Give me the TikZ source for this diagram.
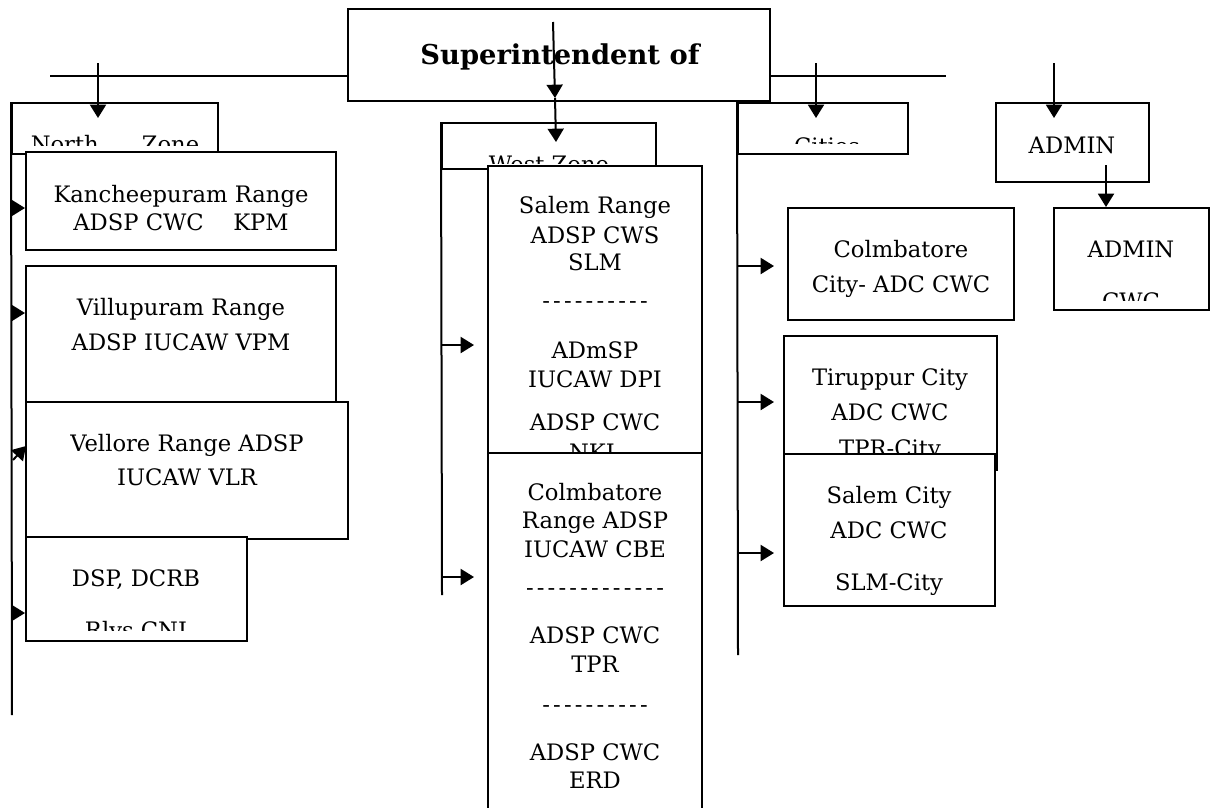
\documentclass[tikz,border=0pt]{standalone}
\usepackage{fontspec}
\setmainfont{DejaVu Serif}
\usetikzlibrary{arrows.meta,fit}
\newcommand\dk{-\kern2.4pt}
\begin{document}
\begin{tikzpicture}[x=0.75pt,y=-0.75pt,
  box/.style={draw,fill=white,line width=1.5pt,inner sep=0pt},
  txt/.style={anchor=base,inner sep=0pt,font=\fontsize{17}{20}\selectfont},
  ln/.style={line width=1.5pt},
  arr/.style={line width=1.5pt,-{Triangle[length=10pt,width=12pt]}}]
\useasboundingbox (0,0) rectangle (1216,807);
\clip (0,0) rectangle (1216,807);

% top line and top box
\coordinate (hl) at (50,76); \coordinate (hr) at (946,76);
\draw[ln] (hl) -- (hr);
\node[box, fit={(348,9) (770,101)}] (sup) {};
\node[txt, font=\bfseries\fontsize{20.5}{24}\selectfont] (suptxt) at (560,64) {Superintendent of};

% ---------- North zone ----------
\node[box, fit={(12,103) (218,154)}] (nz) {};
\begin{scope}
  \clip (12,103) rectangle (218,145);
  \node[txt] (nztxt) at (115,152) {North\hspace{1.9em}Zone};
\end{scope}
\coordinate (nzb) at (12,715);
\draw[ln] (nz.north west) -- (nzb);

\node[box, fit={(26,152) (336,250)}] (kpm) {};
\node[txt] (kpm1) at (181,202) {Kancheepuram Range};
\node[txt] (kpm2) at (181,230) {ADSP CWC\hspace{1.3em}KPM};

\node[box, fit={(26,266) (336,410)}] (vpm) {};
\node[txt] (vpm1) at (181,315) {Villupuram Range};
\node[txt] (vpm2) at (181,350) {ADSP IUCAW VPM};

\node[box, fit={(26,402) (348,539)}] (vlr) {};
\node[txt] (vlr1) at (187,451) {Vellore Range ADSP};
\node[txt] (vlr2) at (187,485) {IUCAW VLR};

\node[box, fit={(26,537) (247,641)}] (dsp) {};
\node[txt] (dsp1) at (136,586) {DSP, DCRB};
\begin{scope}
  \clip (26,537) rectangle (247,630);
  \node[txt] (dsp2) at (136,638) {Rlys CNI};
\end{scope}

\coordinate (na1) at (12,208);
\coordinate (na2) at (12,313);
\coordinate (na3) at (13,460);
\coordinate (na3e) at (26,446);
\coordinate (na4) at (12,613);
\draw[arr] (na1) -- (na1 -| kpm.west);
\draw[arr] (na2) -- (na2 -| vpm.west);
\draw[arr] (na3) -- (na3e);
\draw[arr] (na4) -- (na4 -| dsp.west);

% ---------- West zone ----------
\node[box, fit={(442,123) (656,169)}] (wz) {};
\begin{scope}
  \clip (442,123) rectangle (656,163);
  \node[txt] (wztxt) at (549,172) {West Zone};
\end{scope}
\coordinate (wzb) at (442,595);
\draw[ln] (wz.north west) -- (wzb);

\node[box, fit={(488,166) (702,460)}] (slm) {};
\node[txt] (slm1) at (595,213) {Salem Range};
\node[txt] (slm2) at (595,243) {ADSP CWS};
\node[txt] (slm3) at (595,270) {SLM};
\node[txt] (slm4) at (595,308) {\dk\dk\dk\dk\dk\dk\dk\dk\dk-};
\node[txt] (slm5) at (595,358) {ADmSP};
\node[txt] (slm6) at (595,387) {IUCAW DPI};
\node[txt] (slm7) at (595,430) {ADSP CWC};
\node[txt] (slm8) at (595,460) {NKL};

\node[box, fit={(488,453) (702,830)}] (cbe) {};
\node[txt] (cbe1) at (595,500) {Colmbatore};
\node[txt] (cbe2) at (595,528) {Range ADSP};
\node[txt] (cbe3) at (595,557) {IUCAW CBE};
\node[txt] (cbe4) at (595,595) {\dk\dk\dk\dk\dk\dk\dk\dk\dk\dk\dk\dk-};
\node[txt] (cbe5) at (595,643) {ADSP CWC};
\node[txt] (cbe6) at (595,672) {TPR};
\node[txt] (cbe7) at (595,712) {\dk\dk\dk\dk\dk\dk\dk\dk\dk-};
\node[txt] (cbe8) at (595,760) {ADSP CWC};
\node[txt] (cbe9) at (595,788) {ERD};

\coordinate (wa1) at (442,345); \coordinate (wa1e) at (474,345);
\coordinate (wa2) at (442,577); \coordinate (wa2e) at (474,577);
\draw[arr] (wa1) -- (wa1e);
\draw[arr] (wa2) -- (wa2e);

% ---------- Cities ----------
\node[box, fit={(738,103) (908,154)}] (ct) {};
\begin{scope}
  \clip (738,103) rectangle (908,143);
  \node[txt] (cttxt) at (827,154) {Cities};
\end{scope}
\coordinate (ctb) at (738,655);
\draw[ln] (ct.north west) -- (ctb);

\node[box, fit={(788,208) (1014,320)}] (cbc) {};
\node[txt] (cbc1) at (901,257) {Colmbatore};
\node[txt] (cbc2) at (901,292) {City- ADC CWC};

\node[box, fit={(784,336) (997,470)}] (tpc) {};
\node[txt] (tpc1) at (890,385) {Tiruppur City};
\node[txt] (tpc2) at (890,420) {ADC CWC};
\node[txt] (tpc3) at (890,456) {TPR-City};

\node[box, fit={(784,454) (995,606)}] (slc) {};
\node[txt] (slc1) at (889,503) {Salem City};
\node[txt] (slc2) at (889,538) {ADC CWC};
\node[txt] (slc3) at (889,590) {SLM-City};

\coordinate (ca1) at (738,266); \coordinate (ca1e) at (774,266);
\coordinate (ca2) at (738,402); \coordinate (ca2e) at (774,402);
\coordinate (ca3) at (738,553); \coordinate (ca3e) at (774,553);
\draw[arr] (ca1) -- (ca1e);
\draw[arr] (ca2) -- (ca2e);
\draw[arr] (ca3) -- (ca3e);

% ---------- Admin ----------
\node[box, fit={(996,103) (1149,182)}] (adm) {};
\node[txt] (admtxt) at (1072,153) {ADMIN};
\node[box, fit={(1054,208) (1209,310)}] (admc) {};
\node[txt] (admc1) at (1131,257) {ADMIN};
\begin{scope}
  \clip (1054,208) rectangle (1209,300);
  \node[txt] (admc2) at (1131,309) {CWC};
\end{scope}
\coordinate (aa) at (1106,165);
\draw[arr] (aa) -- (aa |- admc.north);

% ---------- arrows from the top ----------
\coordinate (t1) at (98,63);   \coordinate (t1e) at (98,118);
\coordinate (t2) at (553,22);  \coordinate (t2m) at (555,98); \coordinate (t2e) at (556,142);
\coordinate (t3) at (816,63);  \coordinate (t3e) at (816,118);
\coordinate (t4) at (1054,63); \coordinate (t4e) at (1054,118);
\draw[arr] (t1) -- (t1e);
\draw[arr] (t2) -- (t2m);
\draw[arr] (t2m) -- (t2e);
\draw[arr] (t3) -- (t3e);
\draw[arr] (t4) -- (t4e);
\end{tikzpicture}
\end{document}
